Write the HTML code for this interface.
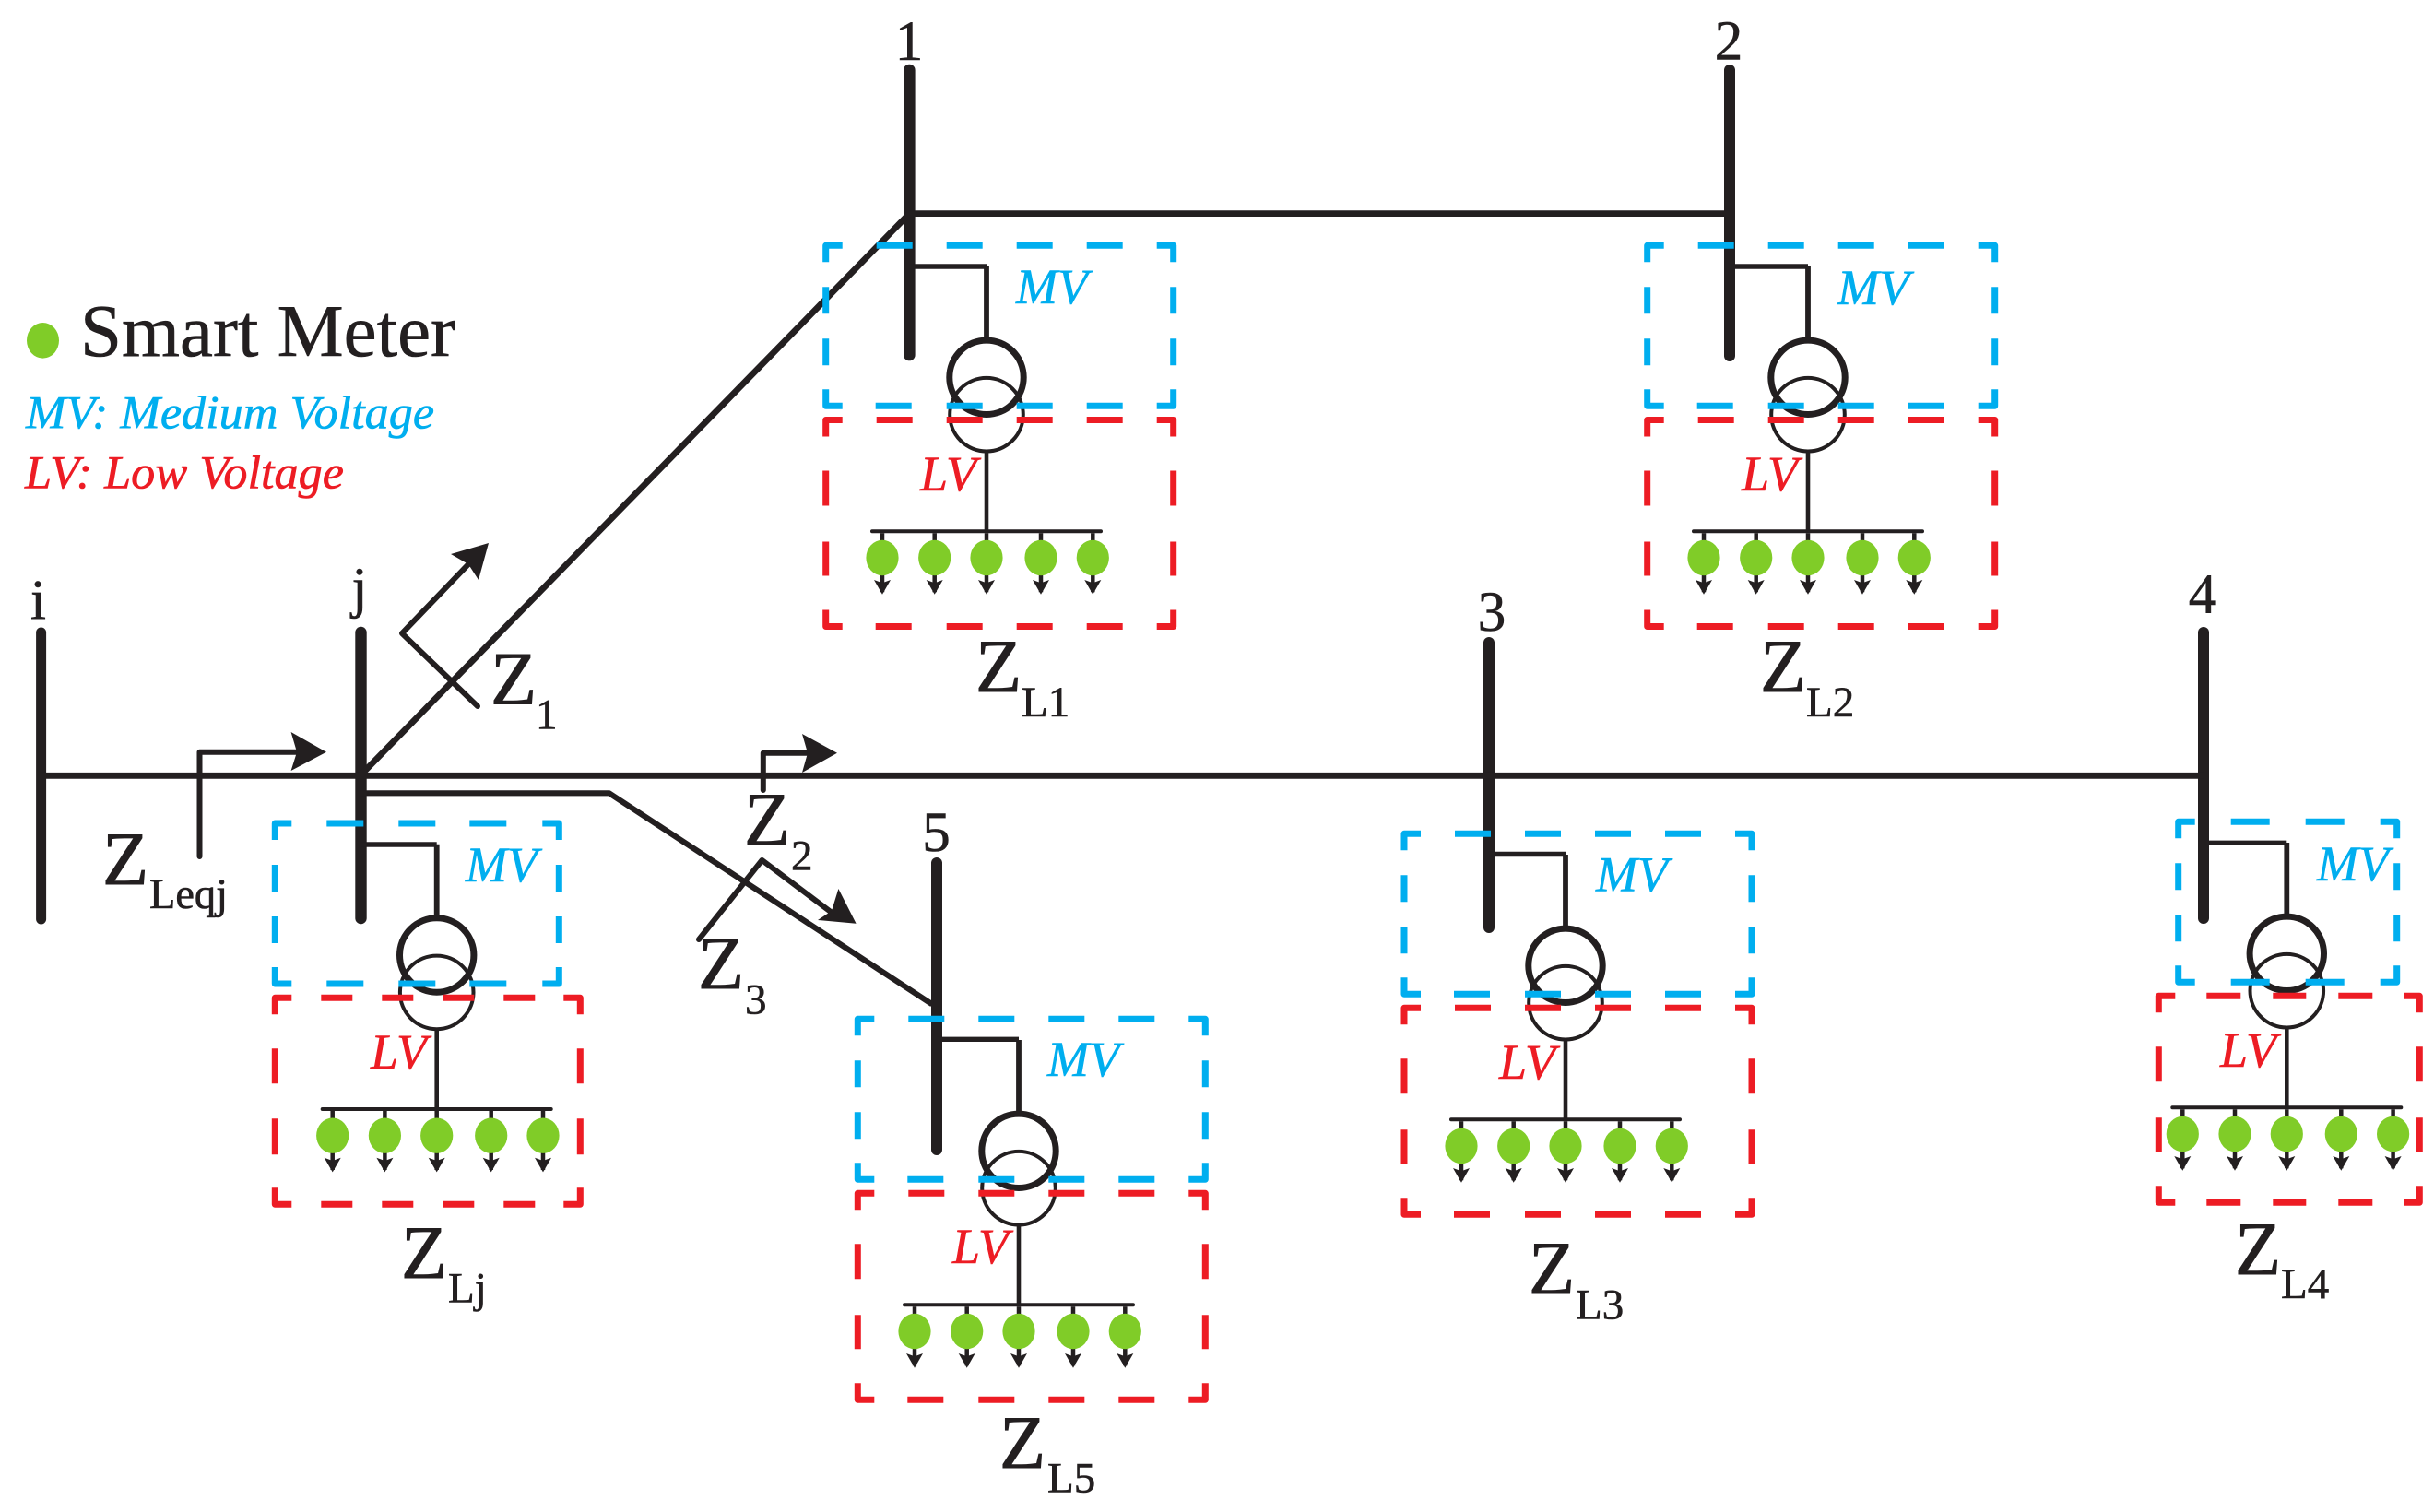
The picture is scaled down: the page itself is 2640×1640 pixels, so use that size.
<!DOCTYPE html>
<html lang="en">
<head>
<meta charset="utf-8">
<title>Distribution network diagram</title>
<style>
html,body{margin:0;padding:0;background:#fff;}
svg{display:block;}
text{font-family:"Liberation Serif",serif;fill:#231f20;stroke:#231f20;stroke-width:0.6px;}
.z{font-size:82px;stroke-width:0.9px;}
.s{font-size:47px;}
.n{font-size:61px;text-anchor:middle;}
.mv{font-size:54px;font-style:italic;fill:#00aeef;stroke:#00aeef;}
.lv{font-size:54px;font-style:italic;fill:#ed1c24;stroke:#ed1c24;}
</style>
</head>
<body>
<svg width="2640" height="1640" viewBox="0 0 2640 1640" xmlns="http://www.w3.org/2000/svg">
<defs>
  <g id="mt">
    <path d="M0,312V376" stroke="#231f20" stroke-width="4.5" fill="none"/>
    <polygon points="0,378.4 -9,362.7 0,366 9,362.7" fill="#231f20"/>
    <ellipse cx="0" cy="338.7" rx="17.6" ry="19.2" fill="#80cc28"/>
  </g>
  <g id="t">
    <path d="M0,22.7V104" stroke="#231f20" stroke-width="5.8" fill="none" stroke-linejoin="round"/>
    <circle cx="0" cy="183.4" r="39.8" fill="none" stroke="#231f20" stroke-width="4"/>
    <circle cx="0" cy="143" r="40.2" fill="none" stroke="#231f20" stroke-width="7"/>
    <path d="M0,223V310" stroke="#231f20" stroke-width="4.6" fill="none"/>
    <path d="M-124,310H124" stroke="#231f20" stroke-width="4" stroke-linecap="round" fill="none"/>
    <use href="#mt" x="-113"/>
    <use href="#mt" x="-56.3"/>
    <use href="#mt" x="0"/>
    <use href="#mt" x="59"/>
    <use href="#mt" x="115.3"/>
  </g>
  <path id="mvs" fill="none" stroke="#00aeef" stroke-width="7" stroke-linejoin="round" d="M18,0H0V18M55,0H94M131,0H170M207,0H246M283,0H322M359,0H377V18M0,45V74M0,101V130M377,45V74M377,101V130M0,156V174H18M54,174H93M131,174H170M207,174H246M283,174H322M359,174H377V156"/>
  <path id="lvs" fill="none" stroke="#ed1c24" stroke-width="7" stroke-linejoin="round" d="M18,0H0V18M55,0H94M131,0H170M207,0H246M283,0H322M359,0H377V18M0,55V93M0,132V169M377,55V93M377,132V169M0,206V224H18M54,224H93M131,224H170M207,224H246M283,224H322M359,224H377V206"/>
</defs>

<rect width="2640" height="1640" fill="#fff"/>

<!-- Buses -->
<g stroke="#231f20" stroke-linecap="round" fill="none">
  <path d="M44.6,686V997" stroke-width="11"/>
  <path d="M391.5,686V996" stroke-width="12.4"/>
  <path d="M986.3,76V385" stroke-width="12.6"/>
  <path d="M1876,76V386" stroke-width="12"/>
  <path d="M1615,697V1006" stroke-width="12"/>
  <path d="M2390,686V996" stroke-width="12"/>
  <path d="M1016,936V1247" stroke-width="12"/>
</g>

<!-- Lines -->
<g stroke="#231f20" fill="none" stroke-linejoin="round">
  <path d="M44,841.3H2390" stroke-width="6.8"/>
  <path d="M986,231.6H1876" stroke-width="6.8"/>
  <path d="M391,841L986,232" stroke-width="6.8"/>
  <path d="M391,860.3H660.7L1011,1089.3" stroke-width="6.2"/>
  <path d="M986,289H1070M1876,289H1961M1615,926.5H1698M2390,914.3H2480.3M1016,1127.3H1105M391.5,916H473.7" stroke-width="5.4"/>
</g>

<!-- Transformers and meters -->
<use href="#t" x="1070" y="266.3"/>
<use href="#t" x="1961" y="266.3"/>
<use href="#t" x="1698" y="904.3"/>
<use href="#t" x="2480.3" y="891.3"/>
<use href="#t" x="1105" y="1105.3"/>
<use href="#t" x="473.7" y="893"/>

<!-- Impedance arrows -->
<g stroke="#231f20" stroke-width="6" fill="none" stroke-linecap="round" stroke-linejoin="round">
  <path d="M216.5,929V815.7H325"/>
  <path d="M827.8,857V816.7H878"/>
  <path d="M518,766L436,687L510,610"/>
  <path d="M758,1019L826.5,933L905,992"/>
</g>
<g fill="#231f20">
  <polygon points="354,815.7 315.6,794 322,815.7 315.6,836"/>
  <polygon points="908,816.7 870,796 876,816.7 870,838"/>
  <polygon points="530,589 489,601 508,612 519,629"/>
  <polygon points="928.6,1001.7 909.4,964 902,988 887,998"/>
</g>

<!-- Dashed boxes: red -->
<use href="#lvs" x="895.7" y="455.5"/>
<use href="#lvs" x="1786.7" y="455.5"/>
<use href="#lvs" x="1523" y="1093.3"/>
<use href="#lvs" x="930.3" y="1294.3"/>
<path fill="none" stroke="#ed1c24" stroke-width="7" stroke-linejoin="round" transform="translate(298.3,1082.3)" d="M18,0H0V18M50,0H84M116,0H150M182,0H216M248,0H282M313,0H331V18M0,55V93M0,131V170M331,55V93M331,131V170M0,206V224H18M50,224H84M116,224H150M182,224H216M248,224H282M313,224H331V206"/>
<path fill="none" stroke="#ed1c24" stroke-width="7" stroke-linejoin="round" transform="translate(2341.3,1080.3)" d="M18,0H0V18M52,0H89M124,0H160M195,0H232M266,0H283V18M0,55V93M0,132V169M283,55V93M283,132V169M0,206V224H18M52,224H89M124,224H160M195,224H232M266,224H283V206"/>

<!-- Dashed boxes: blue -->
<use href="#mvs" x="895.7" y="266.3"/>
<use href="#mvs" x="1786.7" y="266.3"/>
<use href="#mvs" x="1523" y="904.3"/>
<use href="#mvs" x="930.3" y="1105.3"/>
<path fill="none" stroke="#00aeef" stroke-width="7" stroke-linejoin="round" transform="translate(298.3,893)" d="M18,0H0V18M56,0H96M134,0H174M211,0H251M290,0H308V18M0,45V74M0,101V130M308,45V74M308,101V130M0,156V174H18M56,174H96M134,174H174M211,174H251M290,174H308V156"/>
<path fill="none" stroke="#00aeef" stroke-width="7" stroke-linejoin="round" transform="translate(2362.7,891.3)" d="M18,0H0V18M57,0H99M138,0H180M219,0H237V18M0,45V74M0,101V130M237,45V74M237,101V130M0,156V174H18M57,174H99M138,174H180M219,174H237V156"/>

<!-- Legend -->
<ellipse cx="46.5" cy="369.3" rx="17.5" ry="19.3" fill="#80cc28"/>
<text x="87" y="386" font-size="81" textLength="407" lengthAdjust="spacingAndGlyphs">Smart Meter</text>
<text x="28" y="464.3" font-size="51" font-style="italic" style="fill:#00aeef;stroke:#00aeef" textLength="443" lengthAdjust="spacingAndGlyphs">MV: Medium Voltage</text>
<text x="27" y="529.3" font-size="51" font-style="italic" style="fill:#ed1c24;stroke:#ed1c24" textLength="346" lengthAdjust="spacingAndGlyphs">LV: Low Voltage</text>

<!-- Bus labels -->
<text class="n" x="41.5" y="671">i</text>
<text class="n" x="390" y="658">j</text>
<text class="n" x="986" y="65">1</text>
<text class="n" x="1875" y="64.3">2</text>
<text class="n" x="1618" y="684">3</text>
<text class="n" x="2389" y="665">4</text>
<text class="n" x="1015.5" y="923">5</text>

<!-- MV / LV labels -->
<text class="mv" x="1102" y="329">MV</text>
<text class="mv" x="1993" y="330">MV</text>
<text class="mv" x="1731" y="966.7">MV</text>
<text class="mv" x="2513" y="955">MV</text>
<text class="mv" x="1136" y="1167">MV</text>
<text class="mv" x="505" y="956">MV</text>
<text class="lv" x="998" y="532">LV</text>
<text class="lv" x="1889" y="532">LV</text>
<text class="lv" x="1626" y="1170">LV</text>
<text class="lv" x="2408" y="1157">LV</text>
<text class="lv" x="1033" y="1370">LV</text>
<text class="lv" x="402" y="1159">LV</text>

<!-- Z labels -->
<text class="z" x="1058" y="750">Z</text><text class="s" x="1108" y="777">L1</text>
<text class="z" x="1909" y="750">Z</text><text class="s" x="1959" y="777">L2</text>
<text class="z" x="1658" y="1403">Z</text><text class="s" x="1709" y="1430.7">L3</text>
<text class="z" x="2424" y="1382">Z</text><text class="s" x="2474" y="1408">L4</text>
<text class="z" x="1084" y="1592">Z</text><text class="s" x="1136" y="1618.7">L5</text>
<text class="z" x="435" y="1386">Z</text><text class="s" x="486" y="1412.7">Lj</text>
<text class="z" x="111" y="959">Z</text><text class="s" x="162" y="985" textLength="85" lengthAdjust="spacingAndGlyphs">Leqj</text>
<text class="z" x="532" y="763.3">Z</text><text class="s" x="581" y="790.7">1</text>
<text class="z" x="807" y="916">Z</text><text class="s" x="858" y="943.3">2</text>
<text class="z" x="757" y="1072">Z</text><text class="s" x="808" y="1099.3">3</text>
</svg>
</body>
</html>
